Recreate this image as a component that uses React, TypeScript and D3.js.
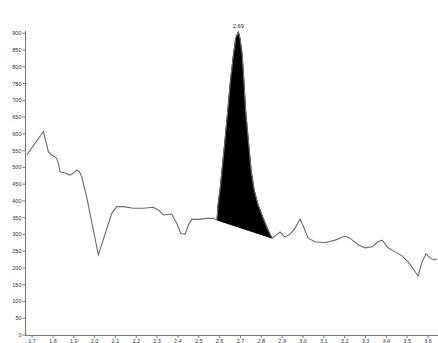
import React from "react";
import * as d3 from "d3";

// Retention time (min) and detector response for the trace
const times = [
  1.6746, 1.7542, 1.7782, 1.7945, 1.8185, 1.8262, 1.8344, 1.8583, 1.8823, 1.8982,
  1.9145, 1.927, 1.9385, 1.964, 2.0181, 2.0824, 2.1064, 2.1381, 2.1861, 2.2341,
  2.282, 2.3061, 2.33, 2.3703, 2.3943, 2.4135, 2.4342, 2.45, 2.4663, 2.498,
  2.5383, 2.57, 2.5877, 2.5925, 2.6021, 2.6117, 2.6261, 2.6395, 2.6525, 2.6665,
  2.6775, 2.69, 2.6975, 2.708, 2.716, 2.7245, 2.7375, 2.7509, 2.7653, 2.7845,
  2.8085, 2.8324, 2.8516, 2.8708, 2.89, 2.914, 2.938, 2.962, 2.986, 3.0052,
  3.0244, 3.058, 3.106, 3.154, 3.2019, 3.2259, 3.2643, 3.2979, 3.3315, 3.3603,
  3.3795, 3.4083, 3.4418, 3.4754, 3.5042, 3.533, 3.5522, 3.5714, 3.5906, 3.6098,
  3.629, 3.6434,
];
const response = [
  537, 607, 547, 537, 527, 512, 487, 483, 477, 483,
  492, 487, 472, 405, 239, 363, 383, 383, 378, 378,
  381, 373, 358, 361, 333, 303, 301, 328, 345, 345,
  348, 348, 343, 388, 433, 492, 582, 671, 761, 836,
  886, 904, 886, 836, 761, 671, 582, 492, 433, 388,
  349, 313, 289, 298, 307, 292, 301, 319, 346, 319,
  289, 278, 275, 283, 295, 289, 269, 260, 263, 278,
  283, 260, 248, 236, 218, 194, 176, 218, 242, 230,
  224, 227,
];

// Integrated peak: start/end indices into the trace and its apex label
const peakStart = 32;
const peakEnd = 52;
const peakApex = 41;
const peakLabel = "2.69";

const yTicks = d3.range(0, 901, 50);
const xTicks = d3.range(17, 37).map((d) => d / 10);

const W = 438;
const H = 343;

export default function App() {
  const x = d3.scaleLinear().domain([1.666, 3.648]).range([25, 438]);
  const y = d3.scaleLinear().domain([0, 900]).range([335, 33.3]);

  const pts: [number, number][] = times.map((t, i) => [t, response[i]]);

  const line = d3
    .line<[number, number]>()
    .x((d) => x(d[0]))
    .y((d) => y(d[1]));

  // Peak area: trace from start to end, closed by a straight baseline
  const peakPts = pts.slice(peakStart, peakEnd + 1);
  const peakPath = line(peakPts) + "Z";

  const fs = 5.5;
  return (
    <svg
      width={W}
      height={H}
      style={{ position: "fixed", left: 0, top: 0, background: "#fff" }}
      fontFamily="Arial, 'Liberation Sans', sans-serif"
    >
      {/* Y axis */}
      <line x1={25.5} x2={25.5} y1={31} y2={335} stroke="#777" strokeWidth={1} />
      {yTicks.map((v) => (
        <g key={v}>
          <line x1={22.5} x2={25.5} y1={y(v)} y2={y(v)} stroke="#777" strokeWidth={1} />
          <text
            x={21.5}
            y={y(v)}
            dy="0.35em"
            textAnchor="end"
            fontSize={fs}
            fill="#333"
          >
            {v}
          </text>
        </g>
      ))}
      {/* X axis */}
      <line x1={25} x2={438} y1={335.5} y2={335.5} stroke="#777" strokeWidth={1} />
      {xTicks.map((t) => (
        <g key={t}>
          <line x1={x(t)} x2={x(t)} y1={335.5} y2={338} stroke="#777" strokeWidth={1} />
          <text x={x(t)} y={342.5} textAnchor="middle" fontSize={fs} fill="#333">
            {t.toFixed(1)}
          </text>
        </g>
      ))}
      {/* Peak fill */}
      <path d={peakPath} fill="#000" stroke="#000" strokeWidth={1} />
      {/* Trace */}
      <path d={line(pts) || ""} fill="none" stroke="#6a6a6a" strokeWidth={1.1} />
      {/* Peak label */}
      <text
        x={x(times[peakApex])}
        y={y(response[peakApex]) - 4}
        textAnchor="middle"
        fontSize={fs}
        fill="#222"
      >
        {peakLabel}
      </text>
    </svg>
  );
}
